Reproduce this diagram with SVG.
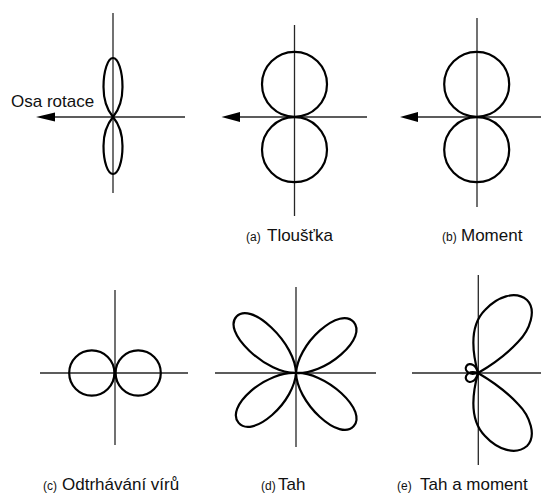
<svg xmlns="http://www.w3.org/2000/svg" width="541" height="494" viewBox="0 0 541 494">
<style>
.ax{stroke:#262626;stroke-width:1.3;fill:none}
.hx{stroke:#262626;stroke-width:1.6;fill:none}
.cv{stroke:#000;stroke-width:2.2;fill:none;stroke-linejoin:round}
.ah{fill:#000}
.lb{font-family:"Liberation Sans",Arial,sans-serif;font-size:17px;fill:#111}
.sm{font-family:"Liberation Sans",Arial,sans-serif;font-size:12px;fill:#111}
</style>
<rect width="541" height="494" fill="#fff"/>
<g id="panel-rotor">
<line class="ax" x1="113" y1="13" x2="113" y2="193"/>
<line class="hx" x1="50" y1="117" x2="185" y2="117"/>
<polygon class="ah" points="36,117 55,112.5 55,121.5"/>
<path class="cv" transform="translate(113,117) rotate(-90)" d="M0,0 C6,-5 17,-9.5 30,-9.5 C46,-9.5 59,-5.2 59,0 C59,5.2 46,9.5 30,9.5 C17,9.5 6,5 0,0Z"/>
<path class="cv" transform="translate(113,117) rotate(90)" d="M0,0 C6,-5 16,-9.5 29,-9.5 C45,-9.5 57,-5.2 57,0 C57,5.2 45,9.5 29,9.5 C16,9.5 6,5 0,0Z"/>
<text class="lb" x="11" y="107">Osa rotace</text>
</g>
<g id="panel-a">
<line class="ax" x1="294.5" y1="25" x2="294.5" y2="216"/>
<line class="hx" x1="235" y1="117" x2="367" y2="117"/>
<polygon class="ah" points="221.5,117 240,112 240,122"/>
<circle class="cv" cx="294.5" cy="84.3" r="32.5"/>
<circle class="cv" cx="294.5" cy="149.7" r="32.5"/>
<text class="sm" x="246" y="241">(a)</text>
<text class="lb" x="267" y="241">Tloušťka</text>
</g>
<g id="panel-b">
<line class="ax" x1="477" y1="18" x2="477" y2="207"/>
<line class="hx" x1="414" y1="117" x2="541" y2="117"/>
<polygon class="ah" points="400,117 418,112 418,122"/>
<circle class="cv" cx="476.7" cy="84.3" r="32.5"/>
<circle class="cv" cx="476.7" cy="149.7" r="32.5"/>
<text class="sm" x="442" y="241">(b)</text>
<text class="lb" x="461" y="241">Moment</text>
</g>
<g id="panel-c">
<line class="ax" x1="115" y1="290" x2="115" y2="445"/>
<line class="ax" x1="40" y1="373" x2="188" y2="373"/>
<circle class="cv" cx="91.8" cy="373" r="22.6"/>
<circle class="cv" cx="138.2" cy="373" r="22.6"/>
<text class="sm" x="43" y="490">(c)</text>
<text class="lb" x="62" y="490">Odtrhávání vírů</text>
</g>
<g id="panel-d">
<line class="ax" x1="296" y1="287" x2="296" y2="447"/>
<line class="ax" x1="215" y1="373" x2="376" y2="373"/>
<path class="cv" transform="translate(296,373) rotate(-136.5)" d="M0,0 C9.8,-9.8 28.7,-16 49.2,-16 C69.7,-16 82,-9.6 82,0 C82,9.6 69.7,16 49.2,16 C28.7,16 9.8,9.8 0,0Z"/>
<path class="cv" transform="translate(296,373) rotate(-41.5)" d="M0,0 C9.2,-9.2 27,-16 46.2,-16 C65.5,-16 77,-9.6 77,0 C77,9.6 65.5,16 46.2,16 C27,16 9.2,9.2 0,0Z"/>
<path class="cv" transform="translate(296,373) rotate(139)" d="M0,0 C9.1,-9.1 26.6,-16 45.6,-16 C64.6,-16 76,-9.6 76,0 C76,9.6 64.6,16 45.6,16 C26.6,16 9.1,9.1 0,0Z"/>
<path class="cv" transform="translate(296,373) rotate(42.8)" d="M0,0 C9.4,-9.4 27.5,-16 47.1,-16 C66.7,-16 78.5,-9.6 78.5,0 C78.5,9.6 66.7,16 47.1,16 C27.5,16 9.4,9.4 0,0Z"/>
<text class="sm" x="261" y="490">(d)</text>
<text class="lb" x="278" y="490">Tah</text>
</g>
<g id="panel-e">
<line class="ax" x1="478.3" y1="275" x2="478.3" y2="465"/>
<line class="ax" x1="412" y1="373" x2="541" y2="373"/>
<path class="cv" d="M478,373 C472,351 470,325 485,310 C497,297 515,290 527,300 C537,310 530,330 518,342 C505,356 490,366 478,373Z"/>
<path class="cv" d="M478,373 C472,395 470,421 485,436 C497,449 515,456 527,446 C537,436 530,416 518,404 C505,390 490,380 478,373Z"/>
<path class="cv" transform="translate(478,373) rotate(-150)" d="M0,0 C3,-3 5,-4.5 8,-4.5 C11,-4.5 13.5,-2.8 13.5,0 C13.5,2.8 11,4.5 8,4.5 C5,4.5 3,3 0,0Z"/>
<path class="cv" transform="translate(478,373) rotate(150)" d="M0,0 C3,-3 5,-4.5 8,-4.5 C11,-4.5 13.5,-2.8 13.5,0 C13.5,2.8 11,4.5 8,4.5 C5,4.5 3,3 0,0Z"/>
<text class="sm" x="397" y="490">(e)</text>
<text class="lb" x="420" y="490">Tah a moment</text>
</g>
</svg>
